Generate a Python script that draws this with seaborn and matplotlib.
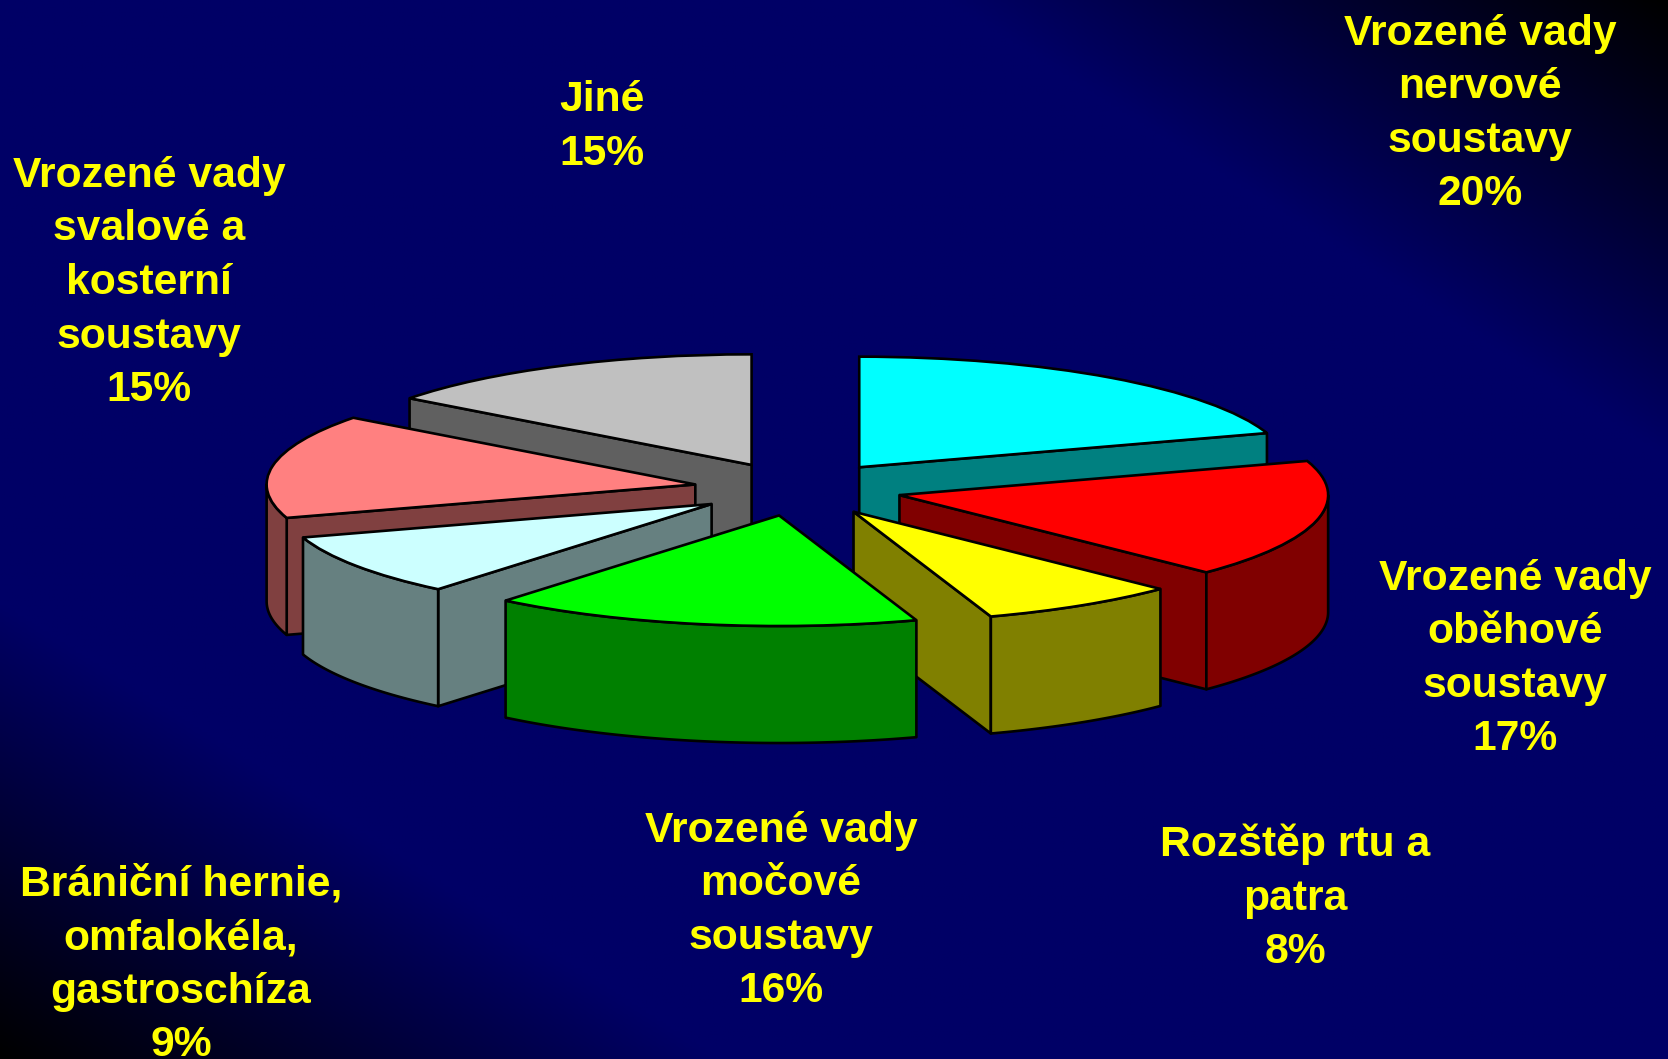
import numpy as np
import matplotlib
matplotlib.use("Agg")
import matplotlib.pyplot as plt
import seaborn as sns

categories = [
    "Vrozené vady\nnervové\nsoustavy",
    "Vrozené vady\noběhové\nsoustavy",
    "Rozštěp rtu a\npatra",
    "Vrozené vady\nmočové\nsoustavy",
    "Brániční hernie,\nomfalokéla,\ngastroschíza",
    "Vrozené vady\nsvalové a\nkosterní\nsoustavy",
    "Jiné",
]
values = [20.0, 17.3, 7.51, 16.2, 9.1, 15.19, 14.7]
top_colors = ["#00FFFF", "#FF0000", "#FFFF00", "#00FF00", "#CCFFFF", "#FF8080", "#C0C0C0"]
side_colors = ["#008080", "#800000", "#808000", "#008000", "#668080", "#804040", "#606060"]
label_centers = [(1480, 114), (1515, 659), (1295, 898), (781, 911), (181, 965), (149, 283), (602, 127)]

W, H = 1668, 1059
CX, CY, RX, RY, DEPTH = 798.0, 489.0, 428.7, 110.6, 117.0
EXPLODE = 0.243
EDGE = 1.9

sns.set_theme(style="white")
plt.rcParams["font.family"] = ["Liberation Sans", "DejaVu Sans"]

fig = plt.figure(figsize=(W / 100, H / 100), dpi=100)
ax = fig.add_axes([0, 0, 1, 1])

# backdrop: navy along the main diagonal, fading to black in two corners
u, v = np.meshgrid(np.linspace(0, 1, 600), np.linspace(0, 1, 400))
shade = np.clip((1 - np.abs(u - v)) / 0.43, 0, 1)
cmap = sns.blend_palette(["#000000", "#000066"], as_cmap=True)
ax.imshow(shade, cmap=cmap, vmin=0, vmax=1, extent=(0, 1, 0, 1), aspect="auto",
          origin="upper", transform=ax.transAxes, zorder=0)

wedges, _ = ax.pie(values, explode=[EXPLODE] * len(values), startangle=90, counterclock=False,
                   colors=sns.color_palette(top_colors),
                   wedgeprops=dict(edgecolor="black", linewidth=EDGE))
ax.set_aspect("auto")
ax.set_xlim(-CX / RX, (W - CX) / RX)
ax.set_ylim((CY - H) / RY, CY / RY)
ax.axis("off")

drop = DEPTH / RY
edges = np.cumsum([0] + values) * 3.6  # clockwise from twelve o'clock
# back slices first
order = [0, 6, 5, 1, 4, 2, 3]


def outer(angle):
    a = np.radians(angle)
    return np.sin(a), np.cos(a)


def wall(xs, ys, color, z):
    xs, ys = np.asarray(xs), np.asarray(ys)
    ax.fill(np.r_[xs, xs[::-1]], np.r_[ys, ys[::-1] - drop], facecolor=color, edgecolor="black",
            linewidth=EDGE, joinstyle="round", zorder=z)


for rank, i in enumerate(order):
    z = 3 + 3 * rank
    cx, cy = wedges[i].center
    t1, t2 = edges[i], edges[i + 1]
    if 180 < t1 < 359:
        px, py = outer(t1)
        wall([cx, cx + px], [cy, cy + py], side_colors[i], z)
    if 0 < t2 < 180:
        px, py = outer(t2)
        wall([cx, cx + px], [cy, cy + py], side_colors[i], z)
    lo, hi = max(t1, 90), min(t2, 270)
    if lo < hi:
        th = np.linspace(lo, hi, 60)
        px, py = outer(th)
        wall(cx + px, cy + py, side_colors[i], z + 1)
    wedges[i].set_zorder(z + 2)

for cat, val, (lx, ly) in zip(categories, values, label_centers):
    ax.text(lx / W, 1 - ly / H, f"{cat}\n{round(val)}%", transform=ax.transAxes, ha="center", va="center",
            ma="center", color="#FFFF00", fontsize=30.7, fontweight="bold", linespacing=1.44,
            zorder=40, clip_on=False)

fig.savefig("out.png", dpi=100)
